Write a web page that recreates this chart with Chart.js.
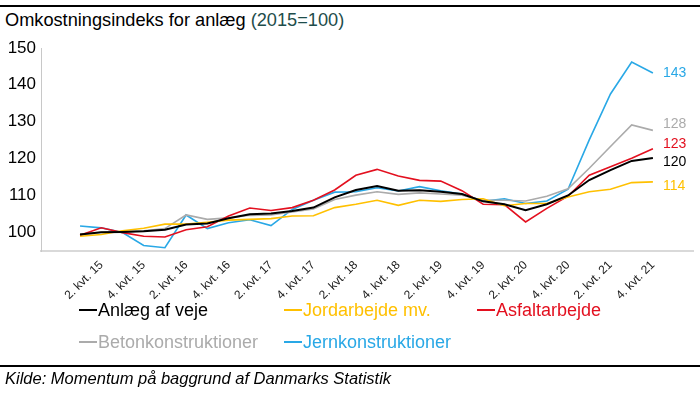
<!DOCTYPE html>
<html>
<head>
<meta charset="utf-8">
<script src="https://cdn.jsdelivr.net/npm/chart.js@4"></script>
<style>
  html, body { margin: 0; padding: 0; background: #fff; }
  body { width: 700px; height: 394px; position: relative; overflow: hidden; font-family: "Liberation Sans", Arial, sans-serif; }
  #chart { position: absolute; left: 0; top: 0; }
  .rule { position: absolute; left: 0; width: 700px; height: 2px; background: #000; }
  #title { position: absolute; left: 5px; top: 10px; font-size: 18.2px; line-height: 20px; color: #000; white-space: nowrap; }
  #title span { color: #1e4d4b; }
  #source { position: absolute; left: 5px; top: 368px; font-size: 16.5px; line-height: 20px; font-style: italic; color: #000; white-space: nowrap; }
  .leg { position: absolute; font-size: 18px; line-height: 20px; white-space: nowrap; display: flex; align-items: center; }
  .leg i { display: inline-block; width: 18px; height: 1.6px; margin-right: 1px; }
</style>
</head>
<body>
<div class="rule" style="top:5px"></div>
<div id="title">Omkostningsindeks for anlæg <span>(2015=100)</span></div>
<canvas id="chart" width="700" height="394"></canvas>
<div id="legend"></div>
<div class="rule" style="top:365px"></div>
<div id="source">Kilde: Momentum på baggrund af Danmarks Statistik</div>

<script>
// quarters 1. kvt. 15 .. 4. kvt. 21
const quarters = [
  '1. kvt. 15', '2. kvt. 15', '3. kvt. 15', '4. kvt. 15',
  '1. kvt. 16', '2. kvt. 16', '3. kvt. 16', '4. kvt. 16',
  '1. kvt. 17', '2. kvt. 17', '3. kvt. 17', '4. kvt. 17',
  '1. kvt. 18', '2. kvt. 18', '3. kvt. 18', '4. kvt. 18',
  '1. kvt. 19', '2. kvt. 19', '3. kvt. 19', '4. kvt. 19',
  '1. kvt. 20', '2. kvt. 20', '3. kvt. 20', '4. kvt. 20',
  '1. kvt. 21', '2. kvt. 21', '3. kvt. 21', '4. kvt. 21'
];

const anlaegVeje = [99.3, 99.9, 100.0, 100.2, 100.6, 102.0, 102.3, 103.7, 104.8, 105.0, 105.7, 106.6, 109.4, 111.4,
  112.5, 111.2, 111.3, 110.9, 110.3, 108.3, 107.5, 105.9, 107.5, 109.9, 114.1, 116.8, 119.3, 120.1];
const jordarbejde = [98.8, 99.3, 100.3, 101.0, 102.1, 102.1, 102.6, 103.2, 103.4, 103.6, 104.3, 104.4, 106.6, 107.5,
  108.6, 107.2, 108.6, 108.3, 108.8, 109.0, 107.1, 107.7, 107.7, 109.5, 110.9, 111.6, 113.4, 113.6];
const asfalt = [99.1, 101.1, 99.8, 98.8, 98.6, 100.6, 101.4, 104.3, 106.5, 105.8, 106.6, 108.6, 111.4, 115.4,
  117.0, 115.2, 114.0, 113.8, 111.2, 107.5, 107.4, 102.7, 106.4, 109.7, 115.4, 117.7, 120.0, 122.6];
const beton = [99.4, 99.9, 100.0, 100.3, 100.9, 104.6, 103.4, 103.8, 104.5, 104.6, 105.4, 106.2, 108.8, 110.0,
  110.9, 110.2, 110.6, 110.3, 110.0, 108.6, 108.6, 108.4, 109.7, 111.7, 117.3, 123.2, 129.1, 127.6];
const jern = [101.6, 101.1, 99.8, 96.3, 95.7, 104.6, 100.9, 102.5, 103.3, 101.7, 106.1, 108.6, 110.8, 110.9,
  112.0, 111.1, 112.3, 111.2, 110.3, 108.3, 109.0, 107.7, 108.4, 111.6, 125.0, 137.5, 146.2, 143.2];

const seriesNames = ['Anlæg af veje', 'Jordarbejde mv.', 'Asfaltarbejde', 'Betonkonstruktioner', 'Jernkonstruktioner'];
const seriesValues = [anlaegVeje, jordarbejde, asfalt, beton, jern];
const seriesColors = ['#000000', '#ffc000', '#e3101f', '#ababab', '#29a8e6'];
const yTicks = [100, 110, 120, 130, 140, 150];

// small vertical nudges so the end labels don't collide
const endLabelShift = [4, 4, -5, -6, 0];

const endLabels = {
  id: 'endLabels',
  afterDatasetsDraw(chart) {
    const ctx = chart.ctx;
    ctx.save();
    ctx.font = '14px "Liberation Sans", Arial, sans-serif';
    ctx.textBaseline = 'middle';
    ctx.textAlign = 'left';
    chart.data.datasets.forEach((ds, i) => {
      const pts = chart.getDatasetMeta(i).data;
      const last = pts[pts.length - 1];
      const v = ds.data[ds.data.length - 1].y;
      ctx.fillStyle = seriesColors[i];
      ctx.fillText(String(Math.round(v)), last.x + 10, last.y + endLabelShift[i]);
    });
    ctx.restore();
  }
};

const chart = new Chart(document.getElementById('chart'), {
  type: 'line',
  data: {
    datasets: seriesNames.map((name, i) => ({
      label: name,
      data: seriesValues[i].map((v, k) => ({ x: k, y: v })),
      borderColor: seriesColors[i],
      backgroundColor: seriesColors[i],
      borderWidth: i === 0 ? 2 : 1.6,
      pointRadius: 0,
      tension: 0
    }))
  },
  options: {
    responsive: false,
    animation: false,
    layout: { padding: { top: 48, right: 7, bottom: 83, left: 0 } },
    plugins: { legend: { display: false }, tooltip: { enabled: false } },
    scales: {
      x: {
        type: 'linear',
        min: -1.84,
        max: 28.89,
        afterFit: (s) => { s.height = 60; },
        afterBuildTicks: (s) => {
          s.ticks = quarters.map((q, k) => ({ value: k })).filter(t => t.value % 2 === 1);
        },
        grid: { display: false, drawTicks: false },
        border: { color: '#d9d9d9', width: 2 },
        ticks: {
          autoSkip: false,
          maxRotation: 45,
          minRotation: 45,
          padding: 7,
          color: '#1a1a1a',
          font: { size: 12, family: '"Liberation Sans", Arial, sans-serif' },
          callback: (v) => quarters[v]
        }
      },
      y: {
        min: 94.8,
        max: 150,
        afterFit: (s) => { s.width = 41; },
        afterBuildTicks: (s) => { s.ticks = yTicks.map(v => ({ value: v })); },
        grid: { display: false, drawTicks: false },
        border: { color: '#c8c8c8', width: 1 },
        ticks: {
          padding: 5,
          color: '#000',
          font: { size: 17, family: '"Liberation Sans", Arial, sans-serif' }
        }
      }
    }
  },
  plugins: [endLabels]
});

// legend, three per row
const legCols = [79, 284, 477];
const legRows = [310, 342];
const legend = document.getElementById('legend');
seriesNames.forEach((name, i) => {
  const el = document.createElement('div');
  el.className = 'leg';
  el.style.left = legCols[i % 3] + 'px';
  el.style.top = (legRows[Math.floor(i / 3)] - 10) + 'px';
  el.style.color = seriesColors[i];
  el.innerHTML = '<i style="background:' + seriesColors[i] + '"></i>' + name;
  legend.appendChild(el);
});
</script>
</body>
</html>
